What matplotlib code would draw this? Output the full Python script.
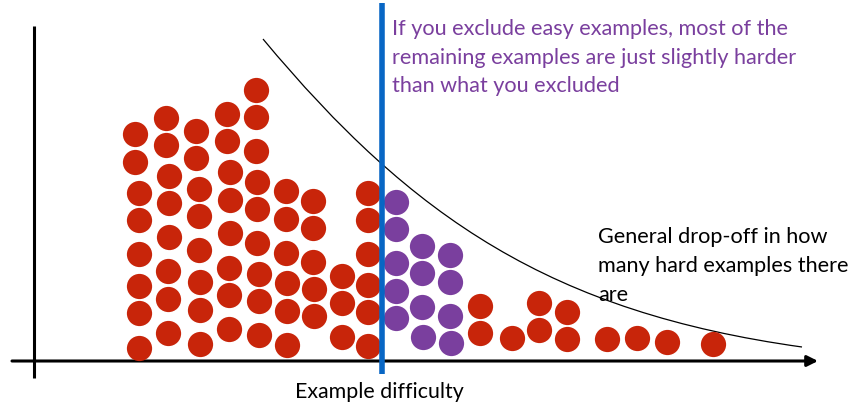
import matplotlib.pyplot as plt
from matplotlib.path import Path
from matplotlib.patches import PathPatch

# dot centres (x, y) in picture pixels, y measured downward from the top
red_x = [135, 135, 139, 139, 139, 139, 139, 139,
         166, 166, 169, 169, 169, 168, 168, 168,
         196, 196, 199, 199, 199, 200, 200, 200,
         227, 227, 230, 230, 230, 229, 229, 229,
         256, 256, 256, 257, 257, 257, 259, 259, 259,
         286, 286, 286, 287, 287, 287,
         313, 313, 313, 314, 314,
         342, 342, 342,
         368, 368, 368, 368, 368, 368,
         480, 480, 512, 539, 539, 567, 567, 607, 637, 667, 713]
red_y = [134, 162, 193, 220, 254, 286, 313, 348,
         118, 145, 176, 203, 237, 271, 299, 333,
         131, 158, 189, 216, 250, 282, 310, 344,
         114, 141, 172, 200, 233, 268, 295, 329,
         90, 117, 151, 182, 209, 243, 274, 301, 335,
         191, 219, 253, 283, 311, 345,
         201, 228, 262, 289, 316,
         276, 303, 337,
         193, 220, 254, 285, 312, 346,
         306, 333, 338, 303, 330, 312, 339, 339, 338, 342, 344]

purple_x = [396, 396, 396, 396, 396,
            422, 422, 422, 423,
            450, 450, 450, 451]
purple_y = [202, 229, 263, 291, 318,
            246, 273, 307, 337,
            255, 282, 316, 343]

# drop-off curve: start, two control points, end (cubic Bezier)
curve_pts = [(263, 39), (413, 219), (552, 312), (802, 347)]

note_lines = ["If you exclude easy examples, most of the",
              "remaining examples are just slightly harder",
              "than what you excluded"]
drop_lines = ["General drop-off in how",
              "many hard examples there",
              "are"]
xlabel = "Example difficulty"

red = "#C8250A"
purple = "#7A3F9E"
blue = "#0866C4"

plt.rcParams['font.family'] = ['Lato', 'DejaVu Sans']

fig = plt.figure(figsize=(8.57, 4.05), dpi=100)
ax = fig.add_axes([0, 0, 1, 1])
ax.set_xlim(0, 857)
ax.set_ylim(405, 0)
ax.axis('off')

# axes of the sketch
ax.plot([34, 34], [26, 378], color='black', lw=2.2, solid_capstyle='butt')
ax.annotate('', xy=(818, 361), xytext=(12, 361),
            arrowprops=dict(arrowstyle='-|>', color='black', lw=2.2,
                            mutation_scale=16, shrinkA=0, shrinkB=0))

ax.scatter(red_x, red_y, s=330, color=red, linewidths=0, zorder=3)
ax.scatter(purple_x, purple_y, s=330, color=purple, linewidths=0, zorder=3)

codes = [Path.MOVETO, Path.CURVE4, Path.CURVE4, Path.CURVE4]
ax.add_patch(PathPatch(Path(curve_pts, codes), fill=False,
                       edgecolor='black', lw=0.9, zorder=2))

ax.plot([382, 382], [3, 374], color=blue, lw=4, solid_capstyle='butt', zorder=4)

for i, line in enumerate(note_lines):
    ax.text(392, 35 + 28.5 * i, line, color=purple, fontsize=15.6, va='baseline')
for i, line in enumerate(drop_lines):
    ax.text(598, 243 + 29 * i, line, color='black', fontsize=15.6, va='baseline')

ax.text(379, 398, xlabel, color='black', fontsize=15.4, ha='center', va='baseline')

plt.savefig('out.png', dpi=100)
